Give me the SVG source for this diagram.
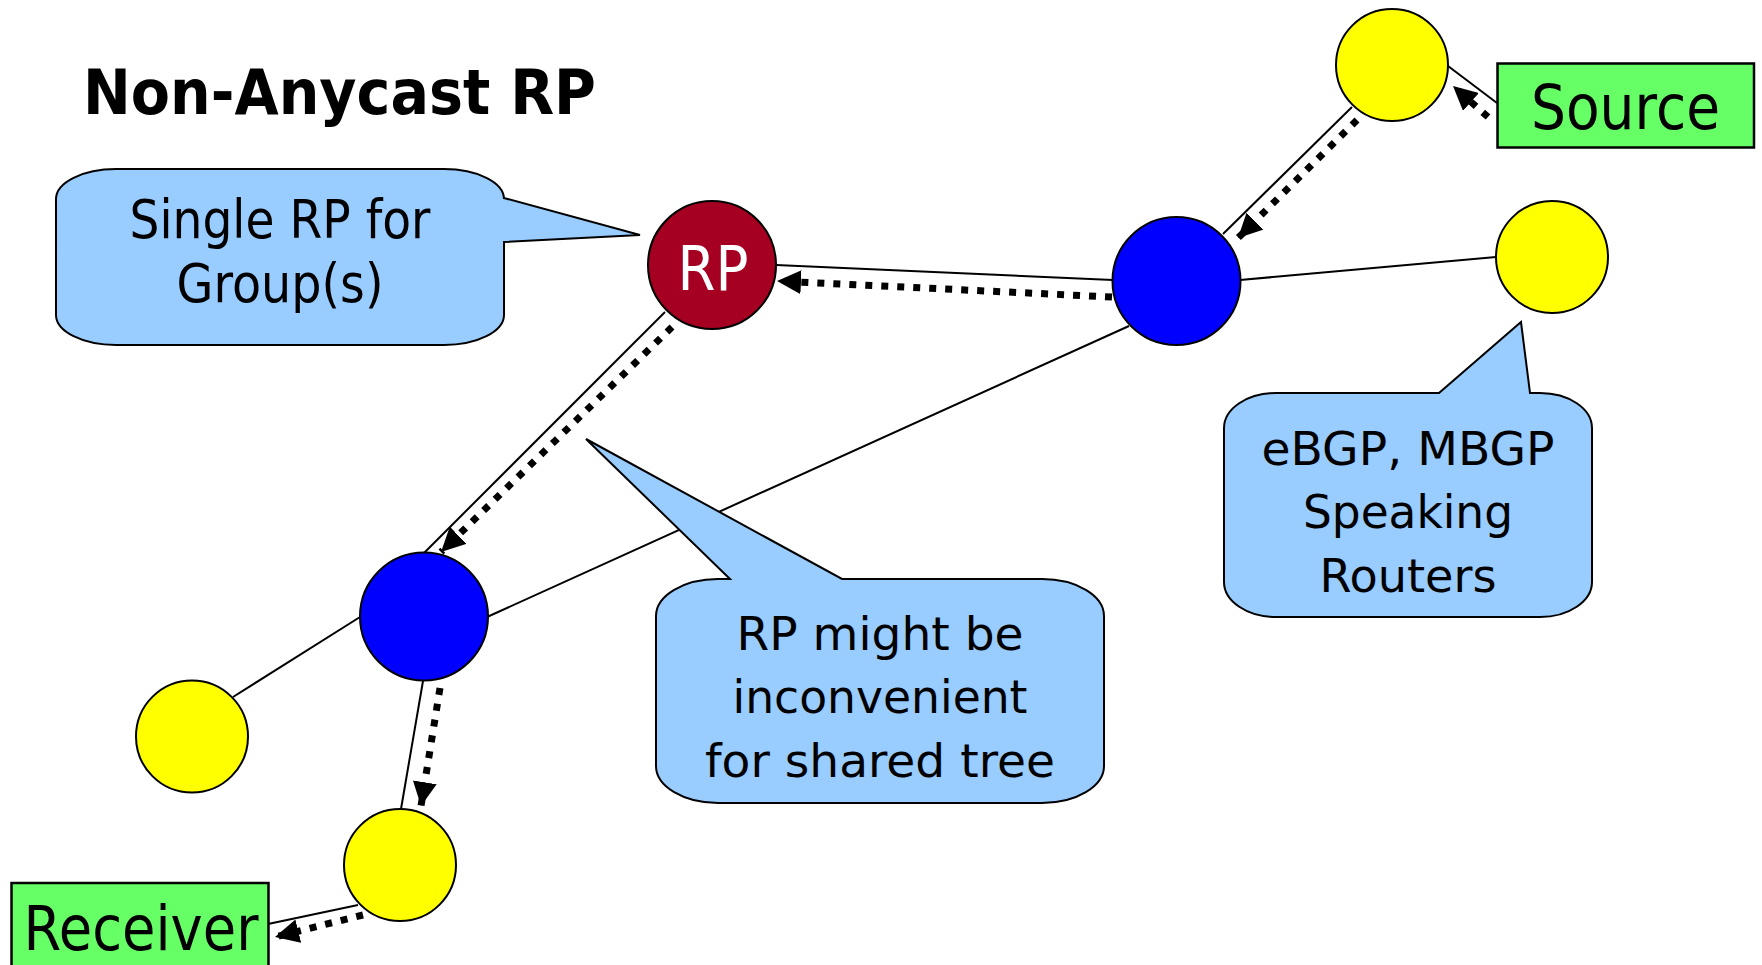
<svg xmlns="http://www.w3.org/2000/svg" width="1762" height="965" viewBox="0 0 1762 965">
  <style>
    .link { stroke: #000; stroke-width: 2; fill: none; }
    .flow { stroke: #000; stroke-width: 7; stroke-dasharray: 7 9; fill: none; marker-end: url(#head); }
    .router { stroke: #000; stroke-width: 2; }
    .edge { fill: #FFFF00; }
    .core { fill: #0000FF; }
    .rp { fill: #A50021; }
    .host { fill: #66FF66; stroke: #000; stroke-width: 2.5; }
    .note { fill: #99CCFF; stroke: #000; stroke-width: 2; }
    .label { font-family: "DejaVu Sans", Verdana, sans-serif; fill: #000; text-anchor: middle; }
    .title { font-family: "DejaVu Sans", Tahoma, sans-serif; font-weight: bold; font-size: 63px; fill: #000; }
  </style>
  <defs>
    <marker id="head" markerUnits="userSpaceOnUse" markerWidth="26" markerHeight="24" refX="24" refY="12" orient="auto">
      <path d="M0,0 L24,12 L0,24 Z" fill="#000"/>
    </marker>
  </defs>

  <rect width="1762" height="965" fill="#fff"/>

  <text class="title" x="83" y="114" textLength="513" lengthAdjust="spacingAndGlyphs">Non-Anycast RP</text>

  <!-- links and traffic flow -->
  <g id="connectors">
    <line class="link" x1="1497" y1="103" x2="1448" y2="66"/>
    <line class="link" x1="1352" y1="107" x2="1223" y2="234"/>
    <line class="link" x1="1240" y1="280" x2="1496" y2="257"/>
    <line class="link" x1="776" y1="265" x2="1113" y2="280"/>
    <line class="link" x1="665" y1="312" x2="424" y2="553"/>
    <line class="link" x1="487" y1="617" x2="1129" y2="326"/>
    <line class="link" x1="360" y1="617" x2="233" y2="697"/>
    <line class="link" x1="423" y1="681" x2="401" y2="809"/>
    <line class="link" x1="358" y1="905" x2="268" y2="924"/>

    <path class="flow" d="M1488,117 L1453,86"/>
    <path class="flow" d="M1357,120 L1238,238"/>
    <path class="flow" d="M1112,297 L777,281"/>
    <path class="flow" d="M672,327 L441,552"/>
    <path class="flow" d="M440,688 L421,806"/>
    <path class="flow" d="M363,915 L275,937"/>
  </g>

  <!-- routers -->
  <g id="router-top"><circle class="router edge" cx="1392" cy="65" r="56"/></g>
  <g id="router-right"><circle class="router edge" cx="1552" cy="257" r="56"/></g>
  <g id="router-core-east"><circle class="router core" cx="1176.5" cy="281" r="64"/></g>
  <g id="router-rp">
    <circle class="router rp" cx="712" cy="265" r="64"/>
    <text class="label" x="713" y="290" font-size="63" style="fill:#fff" textLength="71" lengthAdjust="spacingAndGlyphs">RP</text>
  </g>
  <g id="router-core-west"><circle class="router core" cx="424" cy="616.5" r="64"/></g>
  <g id="router-left"><circle class="router edge" cx="192" cy="736.5" r="56"/></g>
  <g id="router-bottom"><circle class="router edge" cx="400" cy="865" r="56"/></g>

  <!-- end hosts -->
  <g id="source">
    <rect class="host" x="1497.5" y="63.5" width="256.5" height="84"/>
    <text class="label" x="1625.5" y="128.5" font-size="62" textLength="189" lengthAdjust="spacingAndGlyphs">Source</text>
  </g>
  <g id="receiver">
    <rect class="host" x="11.5" y="883" width="257" height="95"/>
    <text class="label" x="141" y="950" font-size="62" textLength="235" lengthAdjust="spacingAndGlyphs">Receiver</text>
  </g>

  <!-- callouts -->
  <g id="callout-single-rp">
    <path class="note" d="M116,169 L444,169 A60,30 0 0 1 504,199 L504,198 L640,235 L504,242 L504,315 A60,30 0 0 1 444,345 L116,345 A60,30 0 0 1 56,315 L56,199 A60,30 0 0 1 116,169 Z"/>
    <text class="label" x="280" y="238" font-size="54" textLength="301" lengthAdjust="spacingAndGlyphs">Single RP for</text>
    <text class="label" x="280" y="301.5" font-size="54" textLength="207" lengthAdjust="spacingAndGlyphs">Group(s)</text>
  </g>
  <g id="callout-bgp">
    <path class="note" d="M1276,393 L1439,393 L1521,322 L1530,393 L1540,393 A52,35 0 0 1 1592,428 L1592,582 A52,35 0 0 1 1540,617 L1276,617 A52,35 0 0 1 1224,582 L1224,428 A52,35 0 0 1 1276,393 Z"/>
    <text class="label" x="1408" y="465" font-size="47" textLength="293" lengthAdjust="spacingAndGlyphs">eBGP, MBGP</text>
    <text class="label" x="1408" y="528" font-size="47" textLength="210" lengthAdjust="spacingAndGlyphs">Speaking</text>
    <text class="label" x="1408" y="591.5" font-size="47" textLength="177" lengthAdjust="spacingAndGlyphs">Routers</text>
  </g>
  <g id="callout-shared-tree">
    <path class="note" d="M718,579 L730,579 L586,439 L842,579 L1042,579 A62,37 0 0 1 1104,616 L1104,766 A62,37 0 0 1 1042,803 L718,803 A62,37 0 0 1 656,766 L656,616 A62,37 0 0 1 718,579 Z"/>
    <text class="label" x="880" y="650" font-size="47" textLength="287" lengthAdjust="spacingAndGlyphs">RP might be</text>
    <text class="label" x="880" y="713" font-size="47" textLength="295" lengthAdjust="spacingAndGlyphs">inconvenient</text>
    <text class="label" x="880" y="776.5" font-size="47" textLength="350" lengthAdjust="spacingAndGlyphs">for shared tree</text>
  </g>
</svg>
